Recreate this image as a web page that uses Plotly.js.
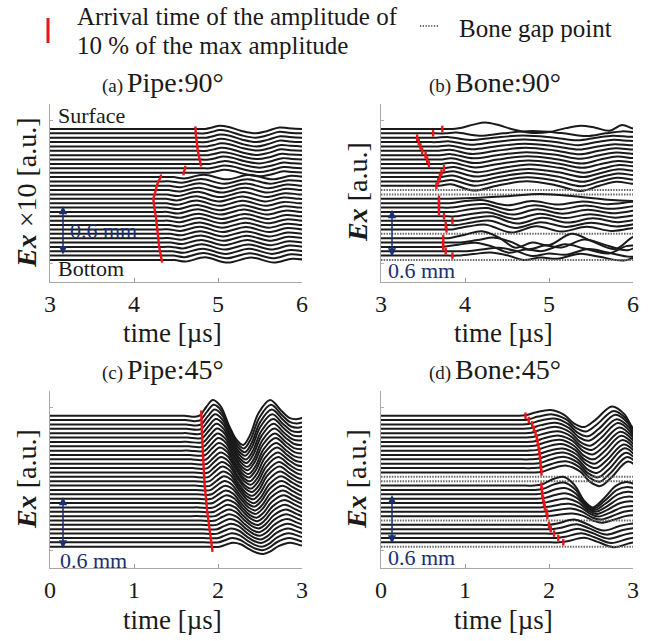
<!DOCTYPE html>
<html><head><meta charset="utf-8">
<script src="https://cdn.plot.ly/plotly-3.0.1.min.js"></script>
<style>html,body{margin:0;padding:0;background:#fff}#chart{width:654px;height:641px}</style>
</head><body><div id="chart"></div>
<script>
// ---------------- DATA ----------------
const ROWS = 31;
const xTicksTop = [3, 4, 5, 6];
const xTicksBottom = [0, 1, 2, 3];

// (a) Pipe:90°
const aArrival = [4.73,4.735,4.74,4.745,4.75,4.76,4.77,4.785,4.80, 4.61,4.59,
  4.32,4.29,4.27,4.26,4.245,4.23,4.235,4.24,4.25,4.26,4.265,4.27,4.275,4.28,4.285,4.29,4.30,4.31,4.32,4.335];
const aMarkRuns = [[0,8],[9,10],[11,30]];
const aGroup = [0,0,0,0,0,0,0,0,0,0,0, 1,1,1,1,1,1,1,1,1,1,1,1,1,1,1,1,1,1,1,1];
const aShift = [0,0,0.01,0.01,0.02,0.02,0.03,0.04,0.05,0.05,0.05,
  0.05,0.02,0,-0.01,-0.025,-0.04,-0.035,-0.03,-0.02,-0.01,-0.005,0,0.005,0.01,0.015,0.02,0.03,0.04,0.05,0.065];
const aGain = [1,1,1,1,0.95,0.95,0.9,0.9,0.85,0.85,0.85,
  0.9,0.9,0.95,0.95,1,1,1,1,1,1,1,1,1,1,1,1,1,1,1,1];
const aWaveT0 = [4.75,4.85,4.93,5.02,5.13,5.28,5.45,5.58,5.73,5.84,6.0,6.1];
const aWaveV0 = [0,0,0.35,0.75,0.45,-0.45,-1.0,-0.5,0.35,0.15,0,0];
const aWaveT1 = [4.32,4.42,4.55,4.78,5.05,5.33,5.6,5.82,6.0,6.1];
const aWaveV1 = [0,0,-0.35,0.6,-0.6,0.55,-0.6,0.3,0,0];

// (b) Bone:90°   (group -1 = bone gap point, dotted)
const bArrival = [3.73,3.62, 3.43,3.45,3.47,3.49,3.53,3.55,3.57, 3.75,3.72,3.70,3.68,3.66, null,null,
  3.69,3.69,3.69,3.69, 3.75,3.85,3.77,3.78, null, 3.74,3.74,3.74,3.77,3.85, null];
const bGroup = [0, 1,1,1,1,1,1,1,1,1,1,1,1,1, -1,-1, 2, 3,3,3,3,3,3,3, -1, 4,4,4,4,4, -1];
const bShift = [0, 0.05,-0.06,-0.05,-0.04,-0.03,-0.02,-0.01,0,0.02,0.01,0,-0.01,-0.02, 0,0,
  0, 0,0.03,0.06,0.09,0.12,0.1,0.05, 0, 0,0.15,-0.08,0.2,0.1, 0];
const bGain = [1, 0.6,0.6,0.7,0.7,0.8,0.8,0.9,0.9,1,1,1.1,1.1,1.2, 0,0,
  1, 0.8,0.9,1,1,1.1,1.1,1.2, 0, 1,0.7,0.6,0.5,0.45, 0];
const bWaveT0 = [3.7,3.8,3.95,4.1,4.24,4.4,4.55,4.8,5.0,5.2,5.38,5.55,5.72,5.87,6.0,6.1];
const bWaveV0 = [0,0,0.25,1.0,1.5,0.9,0,-0.9,-0.7,0.2,0.75,0.3,-0.4,0.9,0.1,0];
const bWaveT1 = [3.6,3.72,3.85,4.12,4.4,4.75,5.1,5.4,5.62,5.82,6.0,6.1];
const bWaveV1 = [0,0,0.3,-0.9,0,0.85,0.1,-1.0,0,0.75,0.4,0.3];
const bWaveT2 = [3.65,3.75,4.1,4.5,4.9,5.3,5.7,6.0,6.1];
const bWaveV2 = [0,0,0.2,0.6,1.1,0.6,-0.2,-0.5,-0.5];
const bWaveT3 = [3.7,3.8,4.0,4.2,4.5,4.8,5.1,5.4,5.7,6.0,6.1];
const bWaveV3 = [0,0,0.6,0.9,-0.6,0.6,-0.4,0.5,-0.3,0.4,0.4];
const bWaveT4 = [3.7,3.8,4.0,4.2,4.4,4.6,4.8,5.0,5.27,5.5,5.79,6.0,6.1];
const bWaveV4 = [0,0,0.8,1.6,0.2,-2.2,-1.0,-1.6,1.0,-0.6,-2.5,0.3,0.5];

// (c) Pipe:45°
const cArrival = [1.800,1.802,1.804,1.807,1.809,1.811,1.814,1.816,1.818,1.820,1.823,1.826,1.829,1.832,1.835,1.838,
  1.842,1.846,1.850,1.855,1.860,1.865,1.872,1.879,1.886,1.893,1.900,1.908,1.916,1.925,1.935];
const cMarkRuns = [[0,30]];
const cGroup = [0,0,0,0,0,0,0,0,0,0,0,0,0,0,0,0,0,0,0,0,0,0,0,0,0,0,0,0,0,0,0];
const cShift = [0,0.01,0.02,0.025,0.035,0.04,0.05,0.055,0.065,0.07,0.08,0.09,0.095,0.105,0.11,0.12,
  0.13,0.135,0.145,0.15,0.16,0.17,0.175,0.185,0.19,0.2,0.21,0.215,0.225,0.23,0.24];
const cGain = [1,0.97,0.95,0.92,0.9,0.87,0.85,0.82,0.8,0.77,0.75,0.72,0.7,0.67,0.65,0.62,
  0.6,0.57,0.55,0.52,0.5,0.47,0.45,0.42,0.4,0.37,0.35,0.32,0.3,0.27,0.25];
const cWaveT = [1.5,1.6,1.72,1.78,1.86,1.94,2.03,2.13,2.22,2.30,2.38,2.48,2.62,2.75,2.85,2.93,3.0,3.1];
const cWaveV = [0,0,-0.25,0,2.0,3.6,2.2,-2.2,-5.5,-6.7,-4.5,0.5,3.6,1.2,-0.5,-0.8,-0.5,0];

// (d) Bone:45°
const dArrival = [1.72,1.76,1.80,1.82,1.84,1.855,1.865,1.875,1.885,1.89,1.895,1.90,1.905,1.91, null,null,
  1.91,1.915,1.92,1.93,1.94,1.95, 1.97,1.98, null, 2.00,2.02,2.06,2.11,2.17, null];
const dGroup = [0,0,0,0,0,0,0,0,0,0,0,0,0,0, -1,-1, 1,1,1,1,1,1,1,1, -1, 2,2,2,2,2, -1];
const dShift = [0,0.02,0.04,0.055,0.07,0.085,0.1,0.11,0.125,0.14,0.15,0.165,0.18,0.19, 0,0,
  0,0.01,0.02,0.035,0.05,0.07,0.09,0.11, 0, 0,0.03,0.06,0.09,0.12, 0];
const dGain = [1,1,1.05,1.05,1.1,1.1,1.1,1.15,1.15,1.15,1.2,1.2,1.2,1.2, 0,0,
  1,0.85,0.72,0.6,0.5,0.42,0.36,0.3, 0, 1,0.95,0.9,0.9,0.85, 0];
const dWaveT0 = [1.52,1.62,1.72,1.85,2.02,2.18,2.3,2.42,2.55,2.75,2.9,3.0,3.1];
const dWaveV0 = [0,0,0.1,0.8,1.3,0.2,-1.8,-2.6,-1.0,2.1,0.3,-2.8,-3.2];
const dWaveT1 = [1.72,1.82,1.92,2.05,2.17,2.3,2.42,2.52,2.65,2.8,2.92,3.0,3.1];
const dWaveV1 = [0,0,0.3,1.5,2.0,0.2,-3.5,-5.0,-3.0,0.0,0.8,0.5,0.3];
const dWaveT2 = [1.9,2.0,2.1,2.3,2.45,2.65,2.85,3.0,3.1];
const dWaveV2 = [0,0,0.3,1.2,0.2,-1.3,-0.2,0.3,0.4];

// ---------------- STYLE ----------------
const W = 654, H = 641;
const FONT = 'Liberation Serif, Times New Roman, serif';
const INK = '#1a1a1a';
const RED = 'rgb(240,18,22)';
const NAVY = '#1b2f72';
const px = v => v / W;
const py = v => 1 - v / H;

const traces = [];
function buildPanel(cfg) {
  for (let k = 0; k < ROWS; k++) {
    const base = 30 - k;
    const g = cfg.group[k];
    if (g < 0) {
      traces.push({x: [cfg.xmin, cfg.xmax], y: [base, base], xaxis: cfg.xa, yaxis: cfg.ya,
        mode: 'lines', line: {color: '#6a6a6a', width: 2, dash: '1.5px,1.2px'}, hoverinfo: 'skip'});
      continue;
    }
    const T = cfg.waves[g][0], V = cfg.waves[g][1];
    const x = [cfg.xmin], y = [base];
    for (let i = 0; i < T.length; i++) { x.push(T[i] + cfg.shift[k]); y.push(base + cfg.gain[k] * V[i]); }
    traces.push({x, y, xaxis: cfg.xa, yaxis: cfg.ya, mode: 'lines',
      line: {color: INK, width: 2, shape: 'spline', smoothing: 1}, hoverinfo: 'skip'});
  }
  // arrival-time markers
  const mx = [], my = [];
  if (cfg.runs) {
    cfg.runs.forEach(([s, e]) => {
      mx.push(cfg.arrival[s]); my.push(30 - s + cfg.markH);
      for (let k = s; k <= e; k++) { mx.push(cfg.arrival[k]); my.push(30 - k); }
      mx.push(cfg.arrival[e]); my.push(30 - e - cfg.markH);
      mx.push(null); my.push(null);
    });
  } else {
    for (let k = 0; k < ROWS; k++) {
      if (cfg.arrival[k] == null) continue;
      mx.push(cfg.arrival[k], cfg.arrival[k], null);
      my.push(30 - k + cfg.markH, 30 - k - cfg.markH, null);
    }
  }
  traces.push({x: mx, y: my, xaxis: cfg.xa, yaxis: cfg.ya, mode: 'lines',
    line: {color: RED, width: 2.4}, connectgaps: false, hoverinfo: 'skip'});
}

buildPanel({xa: 'x', ya: 'y', xmin: 3, xmax: 6, arrival: aArrival, group: aGroup, shift: aShift, gain: aGain,
  waves: [[aWaveT0, aWaveV0], [aWaveT1, aWaveV1]], runs: aMarkRuns, markH: 0.6});
buildPanel({xa: 'x2', ya: 'y2', xmin: 3, xmax: 6, arrival: bArrival, group: bGroup, shift: bShift, gain: bGain,
  waves: [[bWaveT0, bWaveV0], [bWaveT1, bWaveV1], [bWaveT2, bWaveV2], [bWaveT3, bWaveV3], [bWaveT4, bWaveV4]], markH: 0.75});
buildPanel({xa: 'x3', ya: 'y3', xmin: 0, xmax: 3, arrival: cArrival, group: cGroup, shift: cShift, gain: cGain,
  waves: [[cWaveT, cWaveV]], runs: cMarkRuns, markH: 1.2});
buildPanel({xa: 'x4', ya: 'y4', xmin: 0, xmax: 3, arrival: dArrival, group: dGroup, shift: dShift, gain: dGain,
  waves: [[dWaveT0, dWaveV0], [dWaveT1, dWaveV1], [dWaveT2, dWaveV2]], markH: 0.75});

function xax(dom, range, ticks, anchor) {
  return {domain: dom, range: range, anchor: anchor, tickvals: ticks, ticktext: ticks.map(String),
    ticks: 'inside', ticklen: 4, tickcolor: '#9a9a9a', showline: true, linecolor: '#a8a8a8', linewidth: 1,
    showgrid: false, zeroline: false, fixedrange: true,
    tickfont: {family: FONT, size: 24, color: INK}};
}
function yax(dom, range, anchor) {
  return {domain: dom, range: range, anchor: anchor, tickvals: [-0.8, 31.9], showticklabels: false,
    ticks: 'inside', ticklen: 3, tickcolor: '#b0b0b0', showline: true, linecolor: '#a8a8a8', linewidth: 1,
    showgrid: false, zeroline: false, fixedrange: true};
}
const XL = [px(50), px(302)], XR = [px(381), px(633)];
const YT = [py(282), py(104)], YB = [py(568), py(391)];

const ann = [];
function txt(x, y, text, size, opts) {
  ann.push(Object.assign({x: px(x), y: py(y), xref: 'paper', yref: 'paper', text: text, showarrow: false,
    xanchor: 'left', yanchor: 'middle', font: {family: FONT, size: size, color: INK}}, opts || {}));
}
// legend
txt(75, 16, 'Arrival time of the amplitude of', 25);
txt(75, 45, '10 % of the max amplitude', 25);
txt(457, 28, 'Bone gap point', 25);
// panel titles
const SM = t => '<span style="font-size:19px">' + t + '&#8201;</span>';
txt(100, 82, SM('(a)') + 'Pipe:90°', 28);
txt(427, 82, SM('(b)') + 'Bone:90°', 28);
txt(100, 370, SM('(c)') + 'Pipe:45°', 28);
txt(427, 369, SM('(d)') + 'Bone:45°', 28);
// x titles
txt(172, 333, 'time [µs]', 27, {xanchor: 'center'});
txt(503, 333, 'time [µs]', 27, {xanchor: 'center'});
txt(172, 620, 'time [µs]', 27, {xanchor: 'center'});
txt(503, 620, 'time [µs]', 27, {xanchor: 'center'});
// y titles
txt(27, 193, '<b><i>Ex</i></b> ×10 [a.u.]', 28, {xanchor: 'center', textangle: -90});
txt(357, 192, '<b><i>Ex</i></b> [a.u.]', 28, {xanchor: 'center', textangle: -90});
txt(27, 479, '<b><i>Ex</i></b> [a.u.]', 28, {xanchor: 'center', textangle: -90});
txt(357, 479, '<b><i>Ex</i></b> [a.u.]', 28, {xanchor: 'center', textangle: -90});
// surface / bottom
txt(56, 116, 'Surface', 22);
txt(56, 268, 'Bottom', 22);
// 0.6 mm labels and arrows
const NV = {font: {family: FONT, size: 22, color: NAVY}};
txt(68, 230, '0.6 mm', 22, NV);
txt(386, 270, '0.6 mm', 22, NV);
txt(58, 560, '0.6 mm', 22, NV);
txt(386, 557, '0.6 mm', 22, NV);
function dblArrow(x, y0, y1) {
  ann.push({x: px(x), y: py(y0), xref: 'paper', yref: 'paper', ax: 0, ay: y1 - y0, axref: 'pixel', ayref: 'pixel',
    text: '', showarrow: true, arrowside: 'end+start', arrowhead: 2, arrowsize: 1.1, arrowwidth: 1.5,
    arrowcolor: NAVY, standoff: 0, startstandoff: 0});
}
dblArrow(63, 206, 256);
dblArrow(392, 210, 258);
dblArrow(63, 497, 550);
dblArrow(392, 495, 545);

const shapes = [
  {type: 'line', xref: 'paper', yref: 'paper', x0: px(48), x1: px(48), y0: py(18), y1: py(43),
    line: {color: RED, width: 3}},
  {type: 'line', xref: 'paper', yref: 'paper', x0: px(420), x1: px(438), y0: py(26), y1: py(26),
    line: {color: '#333', width: 1.3, dash: '1.2px,1.6px'}}
];

const layout = {
  width: W, height: H, margin: {l: 0, r: 0, t: 0, b: 0},
  paper_bgcolor: '#fff', plot_bgcolor: 'rgba(0,0,0,0)', showlegend: false,
  xaxis: xax(XL, [3, 6], xTicksTop, 'y'),
  yaxis: yax(YT, [-5.04, 35.72], 'x'),
  xaxis2: xax(XR, [3, 6], xTicksTop, 'y2'),
  yaxis2: yax(YT, [-5.04, 35.72], 'x2'),
  xaxis3: xax(XL, [0, 3], xTicksBottom, 'y3'),
  yaxis3: yax(YB, [-4.88, 35.66], 'x3'),
  xaxis4: xax(XR, [0, 3], xTicksBottom, 'y4'),
  yaxis4: yax(YB, [-4.88, 35.66], 'x4'),
  annotations: ann, shapes: shapes
};
Plotly.newPlot('chart', traces, layout, {staticPlot: true, displayModeBar: false});
</script></body></html>
